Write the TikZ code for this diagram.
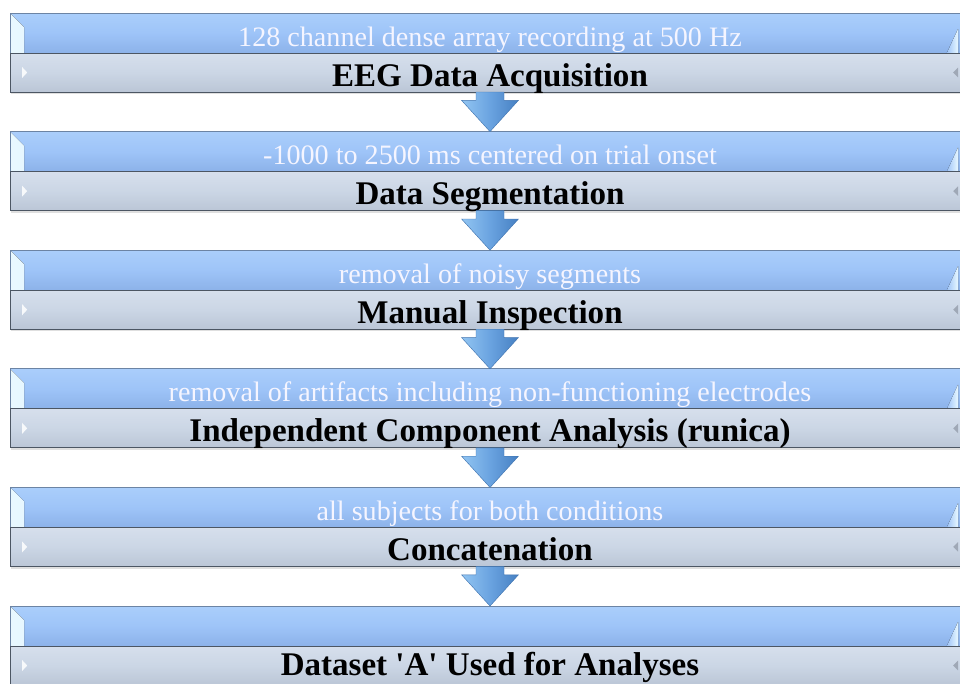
\documentclass[tikz,border=0pt]{standalone}
\usepackage{fontspec}
\setmainfont{Liberation Serif}
\usetikzlibrary{positioning,calc,shadows}

\definecolor{barblue}{HTML}{9EC4F8}
\definecolor{barbluetop}{HTML}{AACEFB}
\definecolor{barbluebot}{HTML}{8CB2E9}
\definecolor{barblueline}{HTML}{6C84A4}
\definecolor{bevelwhite}{HTML}{E8F8FF}
\definecolor{bargray}{HTML}{CBD6E5}
\definecolor{bargraytop}{HTML}{D6DFEC}
\definecolor{bargraybot}{HTML}{BBC6D6}
\definecolor{bargrayline}{HTML}{4C5663}
\definecolor{arrowlight}{HTML}{92C5F2}
\definecolor{arrowmid}{HTML}{6AA3E0}
\definecolor{arrowdark}{HTML}{4680C2}

\begin{document}
\begin{tikzpicture}[
  bar/.style={minimum width=24cm, inner xsep=0pt, inner ysep=0pt, outer sep=0pt, line width=0.7pt, text height=0.825cm},
  stepblue/.style={bar, draw=barblueline, top color=barbluetop, bottom color=barbluebot, middle color=barblue,
    text=white!96!blue, font=\fontsize{20}{20}\selectfont, text depth=0.175cm,
    path picture={
      \fill[left color=bevelwhite, right color=barblue] (path picture bounding box.north west) -- ++(0.35,-0.35)
        -- ($(path picture bounding box.south west)+(0.35,0)$) -- (path picture bounding box.south west) -- cycle;
      \fill[left color=barblue, right color=bevelwhite] ($(path picture bounding box.north east)+(-0.3,-0.4)$)
        -- ($(path picture bounding box.south east)+(-0.3,0)$) -- ++(-0.28,0) -- cycle;
    }},
  stepgray/.style={bar, draw=bargrayline, top color=bargraytop, bottom color=bargraybot, middle color=bargray,
    font=\fontsize{23.5}{23.5}\selectfont\bfseries, text depth=0.15cm,
    drop shadow={opacity=0.25, shadow xshift=0.6pt, shadow yshift=-1.6pt},
    path picture={
      \fill[white!85!bargray] ($(path picture bounding box.west)+(0.3,0.14)$) -- ++(0.13,-0.14) -- ++(-0.13,-0.14) -- cycle;
      \fill[bargraybot!85!black] ($(path picture bounding box.east)+(-0.3,0.12)$) -- ++(-0.12,-0.12) -- ++(0.12,-0.12) -- cycle;
    }},
  flow/.style={draw=arrowdark!90!black, line width=0.3pt, left color=arrowlight, right color=arrowdark, middle color=arrowmid}
]

\clip (0,0) rectangle (24,-17.075);

\node[stepblue, anchor=north west] (b1) at (0.25,-0.325) {128 channel dense array recording at 500 Hz};
\node[stepgray, below=0pt of b1] (g1) {EEG Data Acquisition};
\node[stepblue, below=0.99cm of g1] (b2) {-1000 to 2500 ms centered on trial onset};
\node[stepgray, below=0pt of b2] (g2) {Data Segmentation};
\node[stepblue, below=0.99cm of g2] (b3) {removal of noisy segments};
\node[stepgray, below=0pt of b3] (g3) {Manual Inspection};
\node[stepblue, below=0.99cm of g3] (b4) {removal of artifacts including non-functioning electrodes};
\node[stepgray, below=0pt of b4] (g4) {Independent Component Analysis (runica)};
\node[stepblue, below=0.99cm of g4] (b5) {all subjects for both conditions};
\node[stepgray, below=0pt of b5] (g5) {Concatenation};
\node[stepblue, below=0.99cm of g5] (b6) {};
\node[stepgray, below=0pt of b6, text height=0.725cm, text depth=0.25cm] (g6) {Dataset \textquotesingle A\textquotesingle{} Used for Analyses};

\path[flow] ($(g1.south)+(-0.35,0)$) |- ($(b2.north)+(-0.71,0.78)$) -- (b2.north) -- ($(b2.north)+(0.71,0.78)$) -| ($(g1.south)+(0.35,0)$) -- cycle;
\path[flow] ($(g2.south)+(-0.35,0)$) |- ($(b3.north)+(-0.71,0.78)$) -- (b3.north) -- ($(b3.north)+(0.71,0.78)$) -| ($(g2.south)+(0.35,0)$) -- cycle;
\path[flow] ($(g3.south)+(-0.35,0)$) |- ($(b4.north)+(-0.71,0.78)$) -- (b4.north) -- ($(b4.north)+(0.71,0.78)$) -| ($(g3.south)+(0.35,0)$) -- cycle;
\path[flow] ($(g4.south)+(-0.35,0)$) |- ($(b5.north)+(-0.71,0.78)$) -- (b5.north) -- ($(b5.north)+(0.71,0.78)$) -| ($(g4.south)+(0.35,0)$) -- cycle;
\path[flow] ($(g5.south)+(-0.35,0)$) |- ($(b6.north)+(-0.71,0.78)$) -- (b6.north) -- ($(b6.north)+(0.71,0.78)$) -| ($(g5.south)+(0.35,0)$) -- cycle;

\end{tikzpicture}
\end{document}
